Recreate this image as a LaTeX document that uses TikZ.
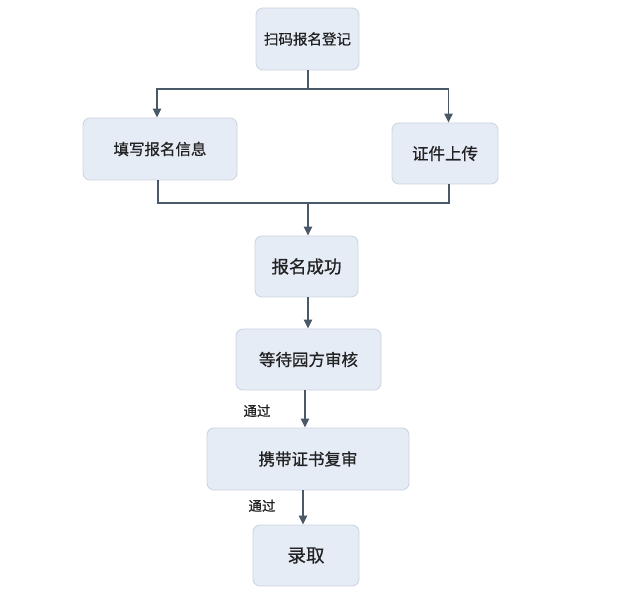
\documentclass[tikz,border=0pt]{standalone}
\usepackage{fontspec}
\newfontfamily\cjk[FakeBold=0.7]{Noto Sans CJK SC}
\usetikzlibrary{arrows.meta}
\definecolor{boxfill}{HTML}{E5ECF6}
\definecolor{boxline}{HTML}{CDD5E1}
\definecolor{conn}{HTML}{4A5968}
\definecolor{txt}{HTML}{222222}
\tikzset{
  box/.style={draw=boxline, fill=boxfill, rounded corners=7pt, line width=0.9pt,
    inner sep=0pt, text=txt, font=\cjk},
  conn/.style={draw=conn, line width=1.4pt},
  arr/.style={conn, -{Triangle[length=9pt,width=8.5pt]}},
  lbl/.style={text=txt, font=\cjk\fontsize{13.5}{15}\selectfont, inner sep=0pt}
}
\begin{document}
\begin{tikzpicture}[x=1pt,y=-1pt]
\useasboundingbox[fill=white] (0,0) rectangle (626,601);
\node[box, minimum width=103pt, minimum height=62pt, font=\cjk\fontsize{14.5}{16}\selectfont] (a) at (307.5,39) {扫码报名登记};
\node[box, minimum width=154pt, minimum height=62pt, font=\cjk\fontsize{15.5}{17}\selectfont] (b) at (160,149) {填写报名信息};
\node[box, minimum width=106pt, minimum height=61pt, font=\cjk\fontsize{16.5}{18}\selectfont] (c) at (445,153.5) {证件上传};
\node[box, minimum width=103pt, minimum height=61pt, font=\cjk\fontsize{17.5}{19}\selectfont] (d) at (306.5,266.5) {报名成功};
\node[box, minimum width=145pt, minimum height=61pt, font=\cjk\fontsize{16.5}{18}\selectfont] (e) at (308.5,359.5) {等待园方审核};
\node[box, minimum width=202pt, minimum height=62pt, font=\cjk\fontsize{16.5}{18}\selectfont] (f) at (308,459) {携带证书复审};
\node[box, minimum width=106pt, minimum height=61pt, font=\cjk\fontsize{18.5}{20}\selectfont] (g) at (306,555.5) {录取};
\coordinate (s1) at (308,89);
\coordinate (j1) at (308,203);
\draw[conn] (a.south -| s1) -- (s1);
\draw[arr] (s1) -| ([xshift=-3pt]b.north);
\draw[arr] (s1) -| ([xshift=3.5pt]c.north);
\draw[conn] ([xshift=-2pt]b.south) |- (j1);
\draw[conn] ([xshift=4pt]c.south) |- (j1);
\draw[arr] (j1) -- (j1 |- d.north);
\draw[arr] ([xshift=1.5pt]d.south) -- ([xshift=1.5pt]d.south |- e.north);
\draw[arr] ([xshift=-3.5pt]e.south) -- ([xshift=-3.5pt]e.south |- f.north) node[lbl, pos=0.55, xshift=-48pt] {通过};
\draw[arr] ([xshift=-5pt]f.south) -- ([xshift=-5pt]f.south |- g.north) node[lbl, pos=0.45, xshift=-41pt] {通过};
\end{tikzpicture}
\end{document}
